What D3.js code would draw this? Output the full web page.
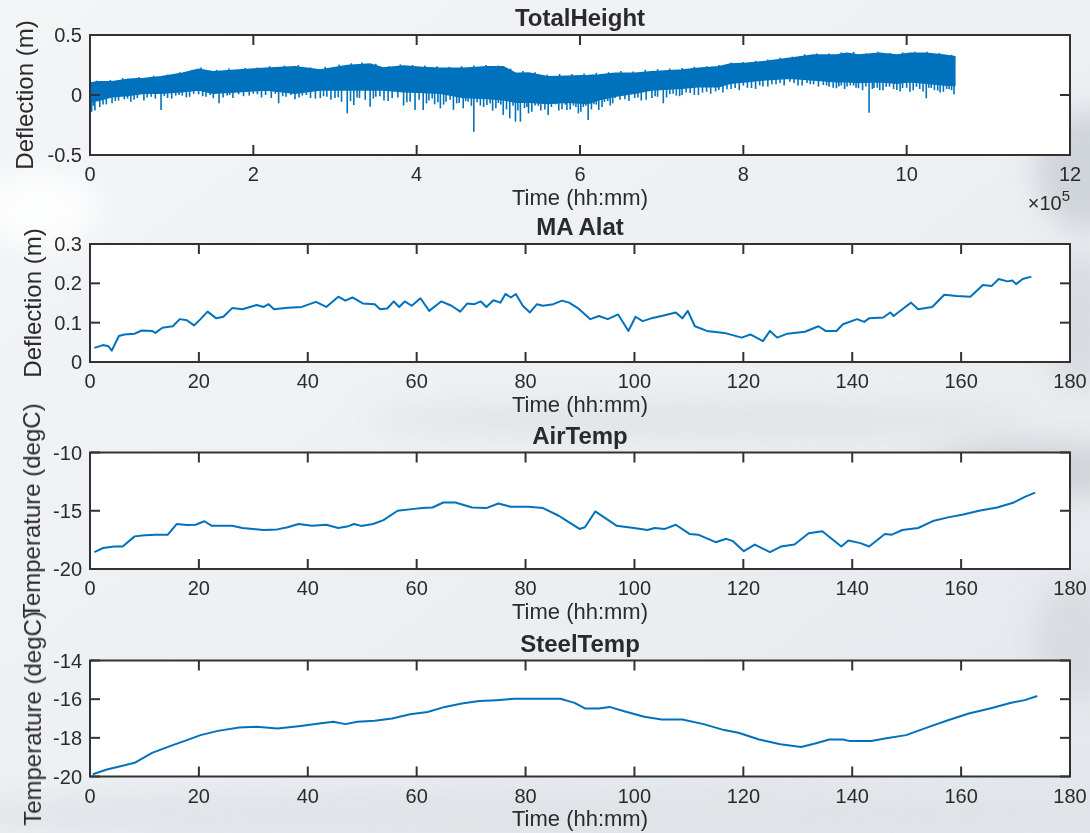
<!DOCTYPE html>
<html>
<head>
<meta charset="utf-8">
<script src="https://cdn.jsdelivr.net/npm/d3@7/dist/d3.min.js"></script>
<style>
  html, body { margin: 0; padding: 0; background: #eef0f3; }
  svg { display: block; }
  text { font-family: "Liberation Sans", Arial, Helvetica, sans-serif; fill: #2b2b2b; }
</style>
</head>
<body>
<svg id="chart" width="1090" height="833"></svg>
<script>
// ---- Data -------------------------------------------------------------

const panelTitles = ["TotalHeight", "MA Alat", "AirTemp", "SteelTemp"];
const yAxisLabels = ["Deflection (m)", "Deflection (m)", "Temperature (degC)", "Temperature (degC)"];
const xAxisLabel = "Time (hh:mm)";

// TotalHeight: raw samples drawn as a dense band (upper / lower envelope, time in 1e5 units)
const heightTime  = [0, 0.1, 0.27, 0.47, 0.66, 0.87, 1.13, 1.33, 1.51, 1.82, 2.15, 2.51, 2.82, 3.15, 3.43, 3.59, 3.84, 4.08, 4.29, 4.57, 4.86, 5.06, 5.21, 5.37, 5.61, 5.84, 6.1, 6.23, 6.43, 6.67, 6.88, 7.25, 7.45, 7.7, 7.84, 8.04, 8.24, 8.57, 8.86, 9.14, 9.27, 9.41, 9.67, 9.88, 10.04, 10.24, 10.45, 10.59];
const heightUpper = [0.10, 0.11, 0.11, 0.131, 0.138, 0.153, 0.181, 0.214, 0.194, 0.208, 0.223, 0.236, 0.208, 0.246, 0.258, 0.225, 0.241, 0.23, 0.223, 0.223, 0.235, 0.235, 0.181, 0.183, 0.153, 0.157, 0.162, 0.167, 0.181, 0.181, 0.194, 0.208, 0.223, 0.236, 0.258, 0.264, 0.278, 0.306, 0.333, 0.333, 0.348, 0.333, 0.348, 0.333, 0.348, 0.348, 0.333, 0.319];
const heightLower = [-0.057, -0.046, -0.014, -0.005, 0.014, 0.014, 0.028, 0.041, 0.014, 0.028, 0.041, 0.014, 0.041, 0.041, 0.041, 0.041, 0.028, 0.021, 0.014, -0.02, -0.03, -0.04, -0.06, -0.06, -0.07, -0.06, -0.07, -0.04, -0.01, 0.014, 0.041, 0.056, 0.069, 0.069, 0.098, 0.111, 0.125, 0.139, 0.125, 0.111, 0.111, 0.105, 0.111, 0.098, 0.111, 0.098, 0.083, 0.079];

// TotalHeight: downward excursions below the band (deep spikes and the denser fringe)
const spikeTime  = [0.02, 0.06, 0.12, 0.2, 0.27, 0.35, 0.42, 0.5, 0.58, 0.66, 0.75, 0.87, 0.95, 1.05, 1.13, 1.22, 1.33, 1.42, 1.51, 1.58, 1.68, 1.75, 1.82, 1.95, 2.05, 2.15, 2.22, 2.31, 2.4, 2.51, 2.6, 2.7, 2.82, 2.9, 3.0, 3.08, 3.15, 3.23, 3.3, 3.43, 3.5, 3.6, 3.7, 3.84, 3.92, 3.98, 4.08, 4.15, 4.22, 4.29, 4.36, 4.45, 4.52, 4.57, 4.63, 4.7, 4.78, 4.86, 4.93, 5.0, 5.06, 5.14, 5.21, 5.27, 5.32, 5.37, 5.45, 5.52, 5.61, 5.7, 5.78, 5.84, 5.92, 5.98, 6.04, 6.1, 6.17, 6.23, 6.3, 6.37, 6.43, 6.55, 6.67, 6.75, 6.88, 6.95, 7.02, 7.1, 7.18, 7.25, 7.35, 7.45, 7.55, 7.7, 7.8, 7.9, 8.0, 8.1, 8.24, 8.35, 8.45, 8.57, 8.67, 8.78, 8.86, 8.98, 9.05, 9.14, 9.2, 9.27, 9.35, 9.41, 9.54, 9.6, 9.67, 9.75, 9.88, 9.95, 10.04, 10.12, 10.24, 10.3, 10.38, 10.45, 10.52, 10.58];
const spikeDepth = [-0.14, -0.13, -0.1, -0.078, -0.069, -0.046, -0.036, -0.057, -0.025, -0.046, -0.015, -0.124, -0.025, -0.005, -0.005, -0.015, 0.006, -0.015, -0.027, -0.069, -0.005, -0.025, 0.006, -0.005, 0.006, 0.0, -0.025, -0.069, -0.015, -0.036, -0.005, -0.025, -0.027, -0.015, -0.025, -0.057, -0.153, -0.084, -0.025, -0.097, -0.015, -0.046, -0.025, -0.088, -0.057, -0.124, -0.124, -0.046, -0.078, -0.111, -0.057, -0.124, -0.067, -0.111, -0.057, -0.307, -0.088, -0.084, -0.13, -0.067, -0.166, -0.194, -0.222, -0.222, -0.109, -0.153, -0.088, -0.13, -0.166, -0.078, -0.119, -0.124, -0.088, -0.153, -0.1, -0.208, -0.078, -0.124, -0.057, -0.088, -0.025, -0.036, -0.025, -0.046, -0.025, -0.015, -0.069, 0.006, -0.005, 0.0, 0.016, 0.0, 0.027, 0.041, 0.047, 0.058, 0.079, 0.058, 0.07, 0.089, 0.1, 0.11, 0.079, 0.1, 0.089, 0.083, 0.068, 0.056, 0.079, 0.07, 0.079, 0.056, -0.147, 0.058, 0.041, 0.068, 0.041, 0.058, 0.027, 0.068, -0.027, 0.058, 0.037, 0.027, 0.047, 0.006];
const fringeTime  = [0.04, 0.16, 0.31, 0.46, 0.54, 0.7, 0.8, 0.91, 1.0, 1.09, 1.18, 1.27, 1.38, 1.47, 1.63, 1.71, 1.88, 2.0, 2.1, 2.27, 2.36, 2.46, 2.56, 2.65, 2.76, 2.86, 2.95, 3.04, 3.19, 3.27, 3.37, 3.47, 3.55, 3.65, 3.77, 3.88, 4.03, 4.12, 4.19, 4.26, 4.33, 4.41, 4.49, 4.6, 4.67, 4.74, 4.82, 4.9, 4.97, 5.03, 5.1, 5.18, 5.24, 5.35, 5.41, 5.49, 5.57, 5.65, 5.74, 5.82, 5.88, 5.95, 6.01, 6.07, 6.14, 6.2, 6.27, 6.34, 6.4, 6.49, 6.6, 6.71, 6.81, 6.92, 7.06, 7.14, 7.22, 7.3, 7.4, 7.5, 7.6, 7.66, 7.75, 7.85, 7.95, 8.05, 8.15, 8.2, 8.3, 8.4, 8.5, 8.62, 8.72, 8.82, 8.92, 9.02, 9.1, 9.17, 9.24, 9.31, 9.38, 9.46, 9.5, 9.58, 9.64, 9.71, 9.79, 9.84, 9.92, 10.0, 10.08, 10.16, 10.2, 10.27, 10.34, 10.41, 10.49, 10.55];
const fringeDepth = [-0.09, -0.08, -0.05, -0.03, -0.04, -0.02, -0.03, -0.01, -0.03, 0.0, -0.02, 0.01, -0.01, 0.0, -0.02, 0.0, -0.01, 0.01, -0.02, 0.01, -0.01, 0.0, -0.02, 0.0, -0.03, -0.01, -0.04, -0.02, -0.05, -0.02, -0.04, -0.03, -0.01, -0.05, -0.02, -0.06, -0.04, -0.07, -0.03, -0.06, -0.08, -0.04, -0.07, -0.05, -0.09, -0.06, -0.1, -0.07, -0.11, -0.08, -0.12, -0.09, -0.13, -0.1, -0.14, -0.09, -0.12, -0.1, -0.13, -0.08, -0.12, -0.1, -0.14, -0.09, -0.12, -0.08, -0.1, -0.05, -0.07, -0.04, -0.05, -0.02, -0.04, -0.01, -0.02, 0.01, -0.01, 0.02, 0.0, 0.02, 0.01, 0.03, 0.02, 0.05, 0.04, 0.06, 0.05, 0.08, 0.07, 0.09, 0.08, 0.1, 0.08, 0.09, 0.07, 0.08, 0.06, 0.07, 0.05, 0.08, 0.06, 0.04, 0.07, 0.05, 0.06, 0.04, 0.07, 0.05, 0.03, 0.06, 0.04, 0.05, 0.03, 0.06, 0.04, 0.02, 0.05, 0.04];

// TotalHeight: small upward excursions along the top of the band
const peakTime  = [0.08, 0.25, 0.4, 0.6, 0.78, 0.95, 1.1, 1.25, 1.36, 1.55, 1.7, 1.9, 2.05, 2.2, 2.38, 2.55, 2.7, 2.88, 3.05, 3.2, 3.33, 3.5, 3.66, 3.8, 3.95, 4.1, 4.25, 4.4, 4.55, 4.7, 4.85, 5.0, 5.15, 5.3, 5.45, 5.6, 5.75, 5.9, 6.05, 6.2, 6.35, 6.5, 6.65, 6.8, 6.95, 7.1, 7.25, 7.4, 7.55, 7.7, 7.85, 8.0, 8.15, 8.3, 8.45, 8.6, 8.75, 8.9, 9.05, 9.2, 9.35, 9.5, 9.65, 9.8, 9.95, 10.1, 10.25, 10.4, 10.55];
const peakValue = [0.12, 0.125, 0.14, 0.15, 0.16, 0.17, 0.19, 0.21, 0.23, 0.21, 0.22, 0.225, 0.23, 0.24, 0.245, 0.25, 0.23, 0.235, 0.255, 0.265, 0.27, 0.26, 0.24, 0.255, 0.25, 0.245, 0.24, 0.235, 0.24, 0.245, 0.25, 0.245, 0.22, 0.2, 0.19, 0.17, 0.175, 0.175, 0.18, 0.185, 0.19, 0.2, 0.195, 0.21, 0.215, 0.22, 0.225, 0.235, 0.24, 0.25, 0.27, 0.275, 0.285, 0.295, 0.31, 0.32, 0.34, 0.345, 0.345, 0.355, 0.36, 0.345, 0.36, 0.35, 0.355, 0.36, 0.36, 0.35, 0.335];

// MA Alat (m) vs time
const alatTime  = [0.8, 2.4, 3.4, 4, 5.3, 6.3, 8.2, 9.5, 11.4, 12, 13.3, 15.2, 16.5, 17.8, 19.1, 20.3, 21.6, 23.2, 24.5, 26.1, 28, 30.6, 31.9, 32.8, 33.8, 36.3, 38.9, 41.5, 43.4, 45.6, 46.9, 48.2, 50.1, 52.3, 53.3, 54.6, 55.8, 56.8, 57.8, 59.1, 60.7, 62.3, 64.5, 66.4, 68, 69.3, 70.6, 71.8, 72.8, 74.1, 75.4, 76.3, 77.3, 78.2, 79.5, 80.8, 82.1, 83.2, 85.1, 86.7, 88, 89.6, 91.9, 93.5, 95.1, 97, 98.9, 100.2, 101.5, 103.1, 105, 107.6, 108.8, 109.8, 111.1, 113.3, 116.5, 119.7, 121.3, 123.6, 124.9, 126.2, 128.1, 131.3, 133.8, 135.1, 137.1, 138.3, 140.9, 142.2, 143.1, 145.7, 147, 147.6, 149.2, 150.8, 152.1, 154.7, 156.9, 159.2, 161.7, 164, 165.6, 166.9, 168.5, 169.4, 170.1, 171.3, 172.9];
const alatValue = [0.036, 0.043, 0.04, 0.029, 0.066, 0.07, 0.072, 0.08, 0.079, 0.074, 0.087, 0.091, 0.109, 0.106, 0.093, 0.109, 0.128, 0.111, 0.115, 0.137, 0.134, 0.145, 0.14, 0.147, 0.134, 0.138, 0.14, 0.153, 0.14, 0.166, 0.156, 0.164, 0.149, 0.147, 0.134, 0.136, 0.154, 0.14, 0.154, 0.143, 0.162, 0.13, 0.154, 0.143, 0.128, 0.149, 0.147, 0.154, 0.14, 0.157, 0.151, 0.173, 0.164, 0.173, 0.143, 0.126, 0.147, 0.143, 0.147, 0.156, 0.151, 0.137, 0.109, 0.117, 0.109, 0.121, 0.079, 0.115, 0.104, 0.111, 0.117, 0.126, 0.111, 0.13, 0.091, 0.079, 0.074, 0.062, 0.07, 0.053, 0.079, 0.062, 0.072, 0.077, 0.091, 0.079, 0.079, 0.096, 0.109, 0.102, 0.111, 0.113, 0.126, 0.117, 0.134, 0.151, 0.134, 0.14, 0.171, 0.168, 0.166, 0.196, 0.193, 0.211, 0.205, 0.207, 0.198, 0.211, 0.217];

// Air temperature (degC) vs time
const airTime  = [0.8, 2.4, 4.4, 6, 8.2, 10.1, 12, 14.3, 15.9, 17.8, 19.4, 21, 22.3, 26.1, 28, 31.9, 34.4, 36.3, 38.3, 40.8, 43.4, 45.6, 47.2, 48.5, 49.8, 52, 53.9, 56.5, 59.1, 61, 62.9, 64.9, 67.1, 70.2, 72.8, 75, 77.3, 80.5, 83.2, 86.1, 89.9, 90.9, 92.8, 96.7, 99.9, 102.4, 103.7, 105.6, 107.6, 110.1, 111.7, 114.9, 116.9, 118.1, 120.1, 122.1, 124.9, 126.9, 129.4, 132, 134.5, 138, 139.3, 141.5, 143.1, 146, 147.3, 149.2, 152.1, 155, 157.6, 160.2, 163.3, 166.6, 169.7, 171.7, 173.6];
const airValue = [-18.55, -18.2, -18.07, -18.07, -17.2, -17.1, -17.05, -17.05, -16.14, -16.22, -16.2, -15.9, -16.28, -16.28, -16.48, -16.65, -16.6, -16.42, -16.14, -16.28, -16.2, -16.48, -16.36, -16.14, -16.3, -16.14, -15.8, -15.0, -14.86, -14.77, -14.72, -14.29, -14.29, -14.72, -14.77, -14.38, -14.66, -14.66, -14.77, -15.43, -16.56, -16.42, -15.06, -16.28, -16.48, -16.65, -16.48, -16.56, -16.2, -16.99, -17.05, -17.7, -17.41, -17.61, -18.47, -17.9, -18.55, -18.07, -17.9, -16.93, -16.76, -18.07, -17.56, -17.78, -18.07, -16.99, -17.05, -16.65, -16.48, -15.85, -15.57, -15.34, -15.0, -14.72, -14.29, -13.81, -13.44];

// Steel temperature (degC) vs time
const steelTime  = [0.5, 3.1, 5.6, 8.2, 11.4, 15.2, 17.8, 20.3, 23.5, 27.4, 30.6, 34.4, 38.3, 42.1, 44.7, 46.9, 49.1, 52.3, 55.5, 58.8, 62, 65.2, 68.3, 71.5, 74.7, 77.9, 81.8, 83.2, 86.4, 89, 90.9, 93.5, 95.4, 98.6, 101.8, 105, 108.8, 112.7, 116.5, 119.1, 122.9, 126.8, 130.6, 133.2, 135.8, 138.3, 139.6, 143.5, 146, 149.9, 153.7, 157.6, 161.4, 165.3, 169.2, 171.7, 174];
const steelValue = [-19.88, -19.64, -19.47, -19.29, -18.78, -18.38, -18.12, -17.86, -17.64, -17.47, -17.43, -17.52, -17.4, -17.26, -17.17, -17.29, -17.17, -17.12, -17.0, -16.78, -16.66, -16.4, -16.22, -16.1, -16.05, -15.98, -15.98, -15.98, -15.98, -16.19, -16.48, -16.48, -16.4, -16.66, -16.91, -17.05, -17.05, -17.29, -17.6, -17.74, -18.09, -18.33, -18.47, -18.29, -18.09, -18.09, -18.17, -18.16, -18.03, -17.86, -17.47, -17.09, -16.74, -16.48, -16.19, -16.05, -15.84];

// Axis ticks
const heightXTicks = [0, 2, 4, 6, 8, 10, 12];
const timeXTicks   = [0, 20, 40, 60, 80, 100, 120, 140, 160, 180];
const heightYTicks = [-0.5, 0, 0.5];
const alatYTicks   = [0, 0.1, 0.2, 0.3];
const airYTicks    = [-20, -15, -10];
const steelYTicks  = [-20, -18, -16, -14];

// ---- Drawing ----------------------------------------------------------

const svg = d3.select("#chart");
const W = 1090, H = 833;
const lineColor = "#0072BD";
const axisColor = "#333333";

// soft photographic-style backdrop
const defs = svg.append("defs");
const bgGrad = defs.append("linearGradient").attr("id", "bgGrad").attr("x1", 0).attr("x2", 1).attr("y1", 0).attr("y2", 1);
bgGrad.append("stop").attr("offset", "0%").attr("stop-color", "#f3f5f7");
bgGrad.append("stop").attr("offset", "60%").attr("stop-color", "#eceff2");
bgGrad.append("stop").attr("offset", "100%").attr("stop-color", "#e3e7eb");
defs.append("filter").attr("id", "haze").attr("x", "-50%").attr("y", "-50%").attr("width", "200%").attr("height", "200%")
  .append("feGaussianBlur").attr("stdDeviation", 14);
defs.append("filter").attr("id", "soft").append("feGaussianBlur").attr("stdDeviation", 0.45);

svg.append("rect").attr("width", W).attr("height", H).attr("fill", "url(#bgGrad)");
const hazeG = svg.append("g").attr("filter", "url(#haze)");
[
  { cx: 1085, cy: 170, rx: 50, ry: 60, c: "#c9ced4", o: 0.8 },
  { cx: 1080, cy: 320, rx: 35, ry: 70, c: "#d3d7dc", o: 0.8 },
  { cx: 1030, cy: 470, rx: 110, ry: 28, c: "#c6c9cd", o: 0.7 },
  { cx: 700, cy: 420, rx: 330, ry: 18, c: "#dfe2e6", o: 0.9 },
  { cx: 40, cy: 210, rx: 60, ry: 40, c: "#ffffff", o: 0.8 },
  { cx: 540, cy: 815, rx: 600, ry: 30, c: "#dde1e6", o: 0.8 },
  { cx: 1075, cy: 640, rx: 40, ry: 60, c: "#d2d6db", o: 0.7 }
].forEach(e => hazeG.append("ellipse").attr("cx", e.cx).attr("cy", e.cy)
  .attr("rx", e.rx).attr("ry", e.ry).attr("fill", e.c).attr("opacity", e.o));

const left = 90, right = 1070;
const panels = [
  { top: 35, height: 120, xDomain: [0, 12], xTicks: heightXTicks, yDomain: [-0.5, 0.5], yTicks: heightYTicks, labelX: 25 },
  { top: 244, height: 118, xDomain: [0, 180], xTicks: timeXTicks, yDomain: [0, 0.3], yTicks: alatYTicks, labelX: 33 },
  { top: 452.5, height: 116.5, xDomain: [0, 180], xTicks: timeXTicks, yDomain: [-20, -10], yTicks: airYTicks, labelX: 32 },
  { top: 660.5, height: 116, xDomain: [0, 180], xTicks: timeXTicks, yDomain: [-20, -14], yTicks: steelYTicks, labelX: 33 }
];
const seriesData = [
  null,
  alatTime.map((t, i) => [t, alatValue[i]]),
  airTime.map((t, i) => [t, airValue[i]]),
  steelTime.map((t, i) => [t, steelValue[i]])
];

const tickLen = 10;
const fmt = v => String(v);

// linear lookup along the band envelope
const envelopeAt = (arr, t) => {
  const i = Math.max(1, Math.min(heightTime.length - 1, d3.bisectLeft(heightTime, t)));
  const t0 = heightTime[i - 1], t1 = heightTime[i];
  const k = Math.max(0, Math.min(1, (t - t0) / (t1 - t0)));
  return arr[i - 1] + k * (arr[i] - arr[i - 1]);
};

panels.forEach((p, idx) => {
  const bottom = p.top + p.height;
  const x = d3.scaleLinear().domain(p.xDomain).range([left, right]);
  const y = d3.scaleLinear().domain(p.yDomain).range([bottom, p.top]);
  const g = svg.append("g").attr("filter", "url(#soft)");

  // plot area
  g.append("rect").attr("x", left).attr("y", p.top).attr("width", right - left).attr("height", p.height).attr("fill", "#ffffff");

  const clipId = "clip" + idx;
  defs.append("clipPath").attr("id", clipId).append("rect")
    .attr("x", left).attr("y", p.top).attr("width", right - left).attr("height", p.height);
  const plot = g.append("g").attr("clip-path", `url(#${clipId})`);

  if (idx === 0) {
    const band = heightTime.map((t, i) => ({ t, hi: heightUpper[i], lo: heightLower[i] }));
    plot.append("path").datum(band)
      .attr("d", d3.area().x(d => x(d.t)).y0(d => y(d.lo)).y1(d => y(d.hi)))
      .attr("fill", lineColor).attr("stroke", lineColor).attr("stroke-width", 1.5);

    const down = spikeTime.map((t, i) => [t, spikeDepth[i]])
      .concat(fringeTime.map((t, i) => [t, fringeDepth[i]]));
    plot.selectAll("line.down").data(down).enter().append("line").attr("class", "down")
      .attr("x1", d => x(d[0])).attr("x2", d => x(d[0]))
      .attr("y1", d => y(d[1])).attr("y2", d => y(envelopeAt(heightLower, d[0])) - 3)
      .attr("stroke", lineColor).attr("stroke-width", 1.6);

    plot.selectAll("line.up").data(peakTime.map((t, i) => [t, peakValue[i]])).enter().append("line").attr("class", "up")
      .attr("x1", d => x(d[0])).attr("x2", d => x(d[0]))
      .attr("y1", d => y(d[1])).attr("y2", d => y(envelopeAt(heightUpper, d[0])) + 3)
      .attr("stroke", lineColor).attr("stroke-width", 1.6);
  } else {
    plot.append("path").datum(seriesData[idx])
      .attr("d", d3.line().x(d => x(d[0])).y(d => y(d[1])))
      .attr("fill", "none").attr("stroke", lineColor).attr("stroke-width", 2)
      .attr("stroke-linejoin", "round");
  }

  // box
  g.append("rect").attr("x", left).attr("y", p.top).attr("width", right - left).attr("height", p.height)
    .attr("fill", "none").attr("stroke", axisColor).attr("stroke-width", 2);

  // inward ticks on all four sides
  const ticks = g.append("g").attr("stroke", axisColor).attr("stroke-width", 2);
  p.xTicks.forEach(v => {
    ticks.append("line").attr("x1", x(v)).attr("x2", x(v)).attr("y1", bottom).attr("y2", bottom - tickLen);
    ticks.append("line").attr("x1", x(v)).attr("x2", x(v)).attr("y1", p.top).attr("y2", p.top + tickLen);
  });
  p.yTicks.forEach(v => {
    ticks.append("line").attr("x1", left).attr("x2", left + tickLen).attr("y1", y(v)).attr("y2", y(v));
    ticks.append("line").attr("x1", right).attr("x2", right - tickLen).attr("y1", y(v)).attr("y2", y(v));
  });

  // tick labels
  g.selectAll("text.xt").data(p.xTicks).enter().append("text")
    .attr("x", d => x(d)).attr("y", bottom + 19).attr("dy", "0.35em")
    .attr("text-anchor", "middle").attr("font-size", 20).text(d => fmt(d));
  g.selectAll("text.yt").data(p.yTicks).enter().append("text")
    .attr("x", left - 8).attr("y", d => y(d)).attr("dy", "0.35em")
    .attr("text-anchor", "end").attr("font-size", 20).text(d => fmt(d));

  // axis labels and title
  g.append("text").attr("x", (left + right) / 2).attr("y", bottom + 42).attr("dy", "0.35em")
    .attr("text-anchor", "middle").attr("font-size", 22).text(xAxisLabel);
  g.append("text").attr("transform", `translate(${p.labelX},${p.top + p.height / 2}) rotate(-90)`)
    .attr("dy", "0.35em").attr("text-anchor", "middle").attr("font-size", 24).text(yAxisLabels[idx]);
  g.append("text").attr("x", (left + right) / 2).attr("y", p.top - 17).attr("dy", "0.35em")
    .attr("text-anchor", "middle").attr("font-size", 24).attr("font-weight", "bold")
    .attr("fill", "#111").text(panelTitles[idx]);

  if (idx === 0) {
    const ex = g.append("text").attr("x", right).attr("y", bottom + 55)
      .attr("text-anchor", "end").attr("font-size", 20);
    ex.append("tspan").text("×10");
    ex.append("tspan").attr("dy", -9).attr("font-size", 15).text("5");
  }
});
</script>
</body>
</html>
